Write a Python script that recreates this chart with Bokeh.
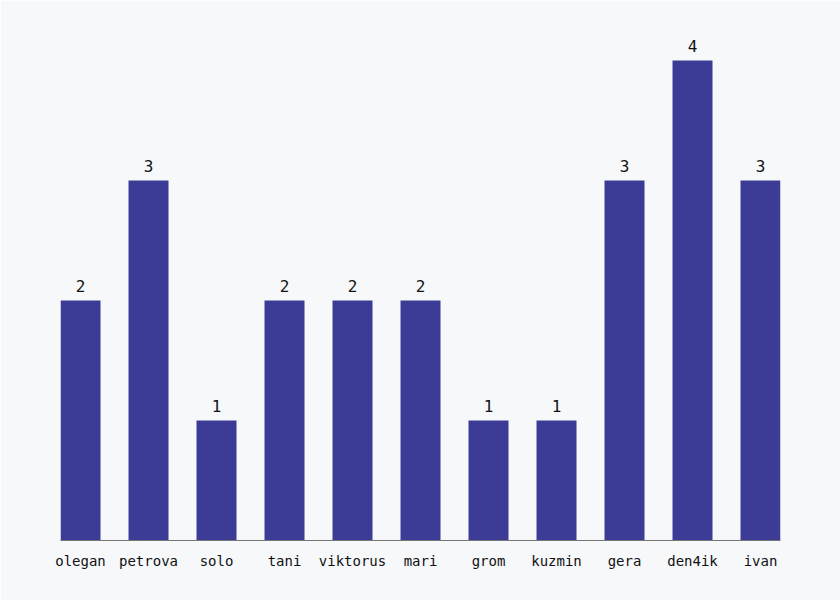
from bokeh.plotting import figure
from bokeh.models import ColumnDataSource, Range1d, FixedTicker
from bokeh.core.properties import value
from bokeh.embed import file_html
from bokeh.resources import INLINE

names = ["olegan", "petrova", "solo", "tani", "viktorus", "mari", "grom", "kuzmin", "gera", "den4ik", "ivan"]
counts = [2, 3, 1, 2, 2, 2, 1, 1, 3, 4, 3]

idx = list(range(len(names)))
src = ColumnDataSource(dict(x=idx, top=counts, label=[str(c) for c in counts]))

BG = "#f7f8fa"
bw = 40 / 68
p = figure(width=840, height=600, output_backend="svg", toolbar_location=None,
           x_range=Range1d(-bw / 2, len(names) - 1 + bw / 2), y_range=Range1d(0, 4.4),
           min_border_left=60, min_border_right=60, min_border_top=12, min_border_bottom=60)
p.background_fill_color = BG
p.border_fill_color = BG
p.outline_line_color = None
p.grid.visible = False
p.yaxis.visible = False

p.vbar(x="x", top="top", width=bw, source=src, fill_color="#3c3c96", line_color=None)
p.text(x="x", y="top", text="label", source=src, text_align="center", text_baseline="bottom",
       y_offset=-9, text_font=value("DejaVu Sans Mono"), text_font_size="16px", text_color="#111111")

ax = p.xaxis[0]
ax.ticker = FixedTicker(ticks=idx)
ax.major_label_overrides = {i: n for i, n in enumerate(names)}
ax.major_tick_line_color = None
ax.minor_tick_line_color = None
ax.axis_line_color = "#777777"
ax.major_label_text_font = "DejaVu Sans Mono"
ax.major_label_text_font_size = "14px"
ax.major_label_text_color = "#111111"
ax.major_label_standoff = 6

open("out.html", "w").write(file_html(p, INLINE))
